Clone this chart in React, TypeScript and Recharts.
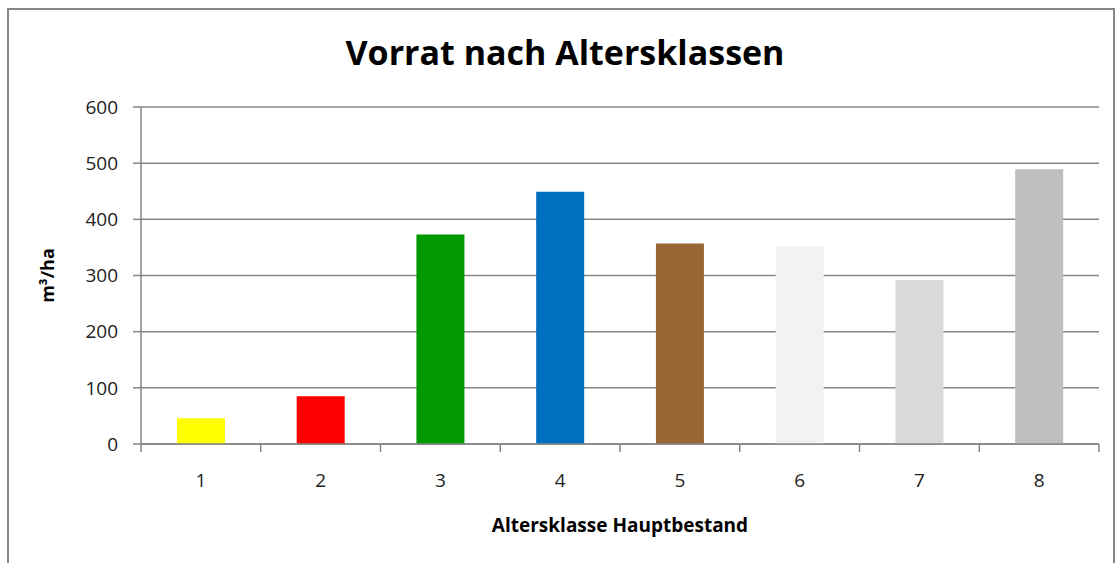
import React from "react";
import { BarChart, Bar, Cell, XAxis, YAxis, CartesianGrid, Label } from "recharts";

const klassen = ["1", "2", "3", "4", "5", "6", "7", "8"];
const vorrat = [46, 85, 373, 449, 357, 352, 292, 489];
const farben = ["#FFFF00", "#FF0000", "#009900", "#0070C0", "#996633", "#F2F2F2", "#D9D9D9", "#BFBFBF"];
const yTicks = [0, 100, 200, 300, 400, 500, 600];

const data = klassen.map((k, i) => ({ klasse: k, vorrat: vorrat[i] }));

const GRAU = "#868686";
const FONT = "'Open Sans', 'Noto Sans', sans-serif";

// x-axis tick: label in the band centre, tick marks on the band edges (like Excel)
function KlasseTick(props: any) {
    const { x, y, payload, index, visibleTicksCount } = props;
    const half = payload && payload.offset ? payload.offset : 59.875;
    return (
        <g>
            <line x1={x - half} y1={y} x2={x - half} y2={y + 8} stroke={GRAU} strokeWidth={1.5} />
            {index === visibleTicksCount - 1 && (
                <line x1={x + half} y1={y} x2={x + half} y2={y + 8} stroke={GRAU} strokeWidth={1.5} />
            )}
            <text x={x} y={y + 43} textAnchor="middle" fontSize={19} fontFamily={FONT} fill="#222">
                {payload.value}
            </text>
        </g>
    );
}

export default function App() {
    return (
        <div style={{ position: "absolute", left: 0, top: 0, width: 1115, height: 563, overflow: "hidden", background: "#fff" }}>
            <div style={{ position: "absolute", left: 7, top: 8, width: 1104, height: 600, border: `2px solid ${GRAU}` }} />
            <div
                style={{
                    position: "absolute",
                    left: 0,
                    width: 1130,
                    top: 29,
                    textAlign: "center",
                    fontFamily: FONT,
                    fontWeight: "bold",
                    fontSize: 34,
                    color: "#000",
                }}
            >
                Vorrat nach Altersklassen
            </div>
            <div style={{ position: "absolute", left: 0, top: 0 }}>
                <BarChart
                    width={1115}
                    height={563}
                    data={data}
                    margin={{ top: 107, right: 16, left: 0, bottom: 0 }}
                    barCategoryGap="30%"
                >
                    <CartesianGrid vertical={false} stroke={GRAU} strokeWidth={1.5} />
                    <XAxis
                        dataKey="klasse"
                        height={119}
                        axisLine={{ stroke: GRAU, strokeWidth: 1.5 }}
                        tickLine={false}
                        tickSize={0}
                        tickMargin={0}
                        tick={<KlasseTick />}
                        interval={0}
                    >
                        <Label
                            content={({ viewBox }: any) => (
                                <text
                                    x={viewBox.x + viewBox.width / 2}
                                    y={viewBox.y + 88}
                                    textAnchor="middle"
                                    fontSize={19}
                                    fontWeight="bold"
                                    fontFamily={FONT}
                                    fill="#000"
                                >
                                    Altersklasse Hauptbestand
                                </text>
                            )}
                        />
                    </XAxis>
                    <YAxis
                        width={141}
                        domain={[0, 600]}
                        ticks={yTicks}
                        interval={0}
                        axisLine={{ stroke: GRAU, strokeWidth: 1.5 }}
                        tickLine={{ stroke: GRAU, strokeWidth: 1.5 }}
                        tickSize={8}
                        tickMargin={15}
                        tick={{ fontSize: 19, fontFamily: FONT, fill: "#222" }}
                    >
                        <Label
                            content={({ viewBox }: any) => (
                                <text
                                    x={54}
                                    y={viewBox.y + viewBox.height / 2}
                                    textAnchor="middle"
                                    fontSize={18}
                                    fontWeight="bold"
                                    fontFamily={FONT}
                                    fill="#000"
                                    transform={`rotate(-90, 54, ${viewBox.y + viewBox.height / 2})`}
                                >
                                    m³/ha
                                </text>
                            )}
                        />
                    </YAxis>
                    <Bar dataKey="vorrat" isAnimationActive={false}>
                        {data.map((d, i) => (
                            <Cell key={d.klasse} fill={farben[i]} />
                        ))}
                    </Bar>
                </BarChart>
            </div>
        </div>
    );
}
